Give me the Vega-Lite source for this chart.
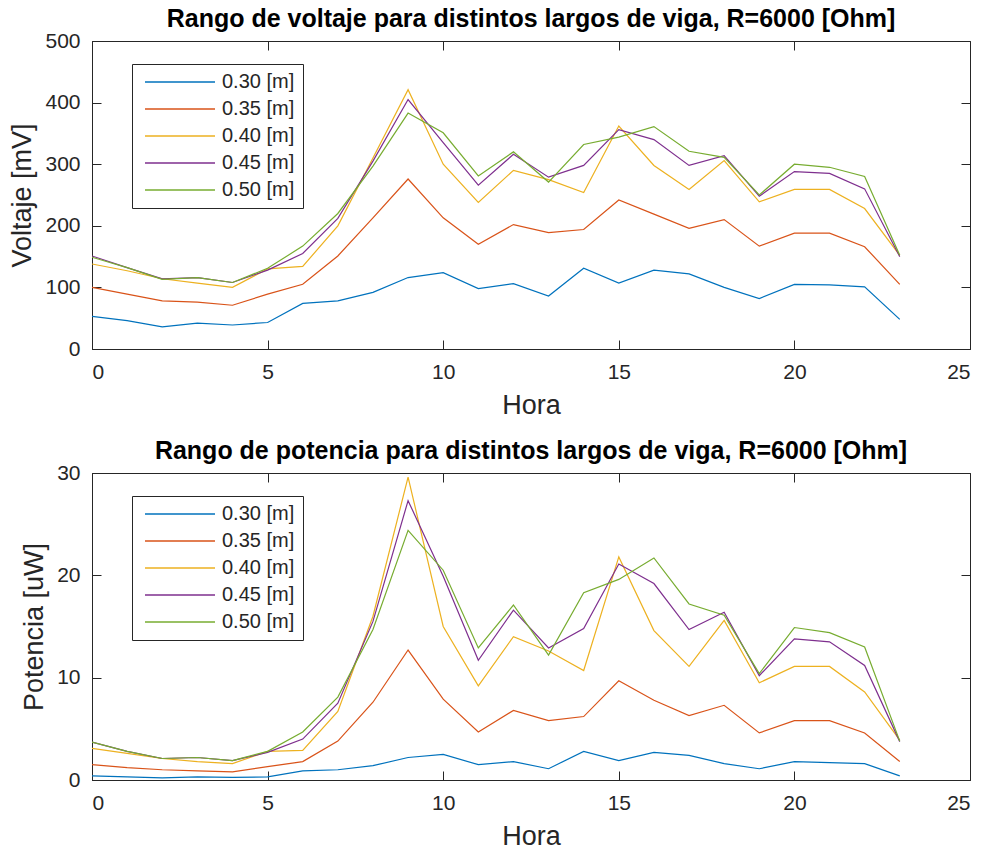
{
  "$schema": "https://vega.github.io/schema/vega-lite/v6.json",
  "background": "white",
  "autosize": {"type": "pad"},
  "padding": {"left": 8, "top": 6, "right": 0, "bottom": 0},
  "spacing": 19,
  "config": {
    "font": "Liberation Sans",
    "view": {"stroke": "#262626", "strokeWidth": 1},
    "axis": {
      "grid": false,
      "domainColor": "#262626",
      "tickColor": "#262626",
      "labelColor": "#262626",
      "titleColor": "#262626",
      "labelFont": "Liberation Sans",
      "titleFont": "Liberation Sans",
      "labelFontSize": 21,
      "titleFontSize": 27,
      "titleFontWeight": "normal",
      "tickSize": -9,
      "labelPadding": 21
    },
    "axisX": {"titlePadding": 10},
    "axisY": {"titlePadding": 8},
    "title": {"font": "Liberation Sans", "fontSize": 25, "fontWeight": "bold", "color": "#000000", "anchor": "middle", "frame": "group", "baseline": "alphabetic", "offset": -2},
    "legend": {
      "orient": "none",
      "legendX": 40,
      "legendY": 23,
      "title": null,
      "symbolType": "M-1,0H13",
      "symbolSize": 100,
      "symbolStrokeWidth": 1.3,
      "labelFont": "Liberation Sans",
      "labelFontSize": 20,
      "labelColor": "#262626",
      "labelOffset": 62,
      "strokeColor": "#262626",
      "fillColor": "white",
      "padding": 8,
      "rowPadding": 7
    }
  },
  "data": {"values": [
    {"hora":0,"largo":"0.30 [m]","voltaje":53,"potencia":0.4},
    {"hora":0,"largo":"0.35 [m]","voltaje":100,"potencia":1.5},
    {"hora":0,"largo":"0.40 [m]","voltaje":138,"potencia":3.1},
    {"hora":0,"largo":"0.45 [m]","voltaje":151,"potencia":3.7},
    {"hora":0,"largo":"0.50 [m]","voltaje":149,"potencia":3.7},
    {"hora":1,"largo":"0.30 [m]","voltaje":46,"potencia":0.3},
    {"hora":1,"largo":"0.35 [m]","voltaje":89,"potencia":1.2},
    {"hora":1,"largo":"0.40 [m]","voltaje":127,"potencia":2.6},
    {"hora":1,"largo":"0.45 [m]","voltaje":132,"potencia":2.8},
    {"hora":1,"largo":"0.50 [m]","voltaje":132,"potencia":2.8},
    {"hora":2,"largo":"0.30 [m]","voltaje":36,"potencia":0.2},
    {"hora":2,"largo":"0.35 [m]","voltaje":78,"potencia":1.0},
    {"hora":2,"largo":"0.40 [m]","voltaje":114,"potencia":2.1},
    {"hora":2,"largo":"0.45 [m]","voltaje":114,"potencia":2.1},
    {"hora":2,"largo":"0.50 [m]","voltaje":113,"potencia":2.1},
    {"hora":3,"largo":"0.30 [m]","voltaje":42,"potencia":0.3},
    {"hora":3,"largo":"0.35 [m]","voltaje":76,"potencia":0.9},
    {"hora":3,"largo":"0.40 [m]","voltaje":107,"potencia":1.8},
    {"hora":3,"largo":"0.45 [m]","voltaje":116,"potencia":2.2},
    {"hora":3,"largo":"0.50 [m]","voltaje":116,"potencia":2.2},
    {"hora":4,"largo":"0.30 [m]","voltaje":39,"potencia":0.25},
    {"hora":4,"largo":"0.35 [m]","voltaje":71,"potencia":0.8},
    {"hora":4,"largo":"0.40 [m]","voltaje":100,"potencia":1.6},
    {"hora":4,"largo":"0.45 [m]","voltaje":108,"potencia":1.9},
    {"hora":4,"largo":"0.50 [m]","voltaje":108,"potencia":1.9},
    {"hora":5,"largo":"0.30 [m]","voltaje":43,"potencia":0.3},
    {"hora":5,"largo":"0.35 [m]","voltaje":89,"potencia":1.3},
    {"hora":5,"largo":"0.40 [m]","voltaje":130,"potencia":2.8},
    {"hora":5,"largo":"0.45 [m]","voltaje":128,"potencia":2.7},
    {"hora":5,"largo":"0.50 [m]","voltaje":131,"potencia":2.8},
    {"hora":6,"largo":"0.30 [m]","voltaje":74,"potencia":0.9},
    {"hora":6,"largo":"0.35 [m]","voltaje":105,"potencia":1.8},
    {"hora":6,"largo":"0.40 [m]","voltaje":134,"potencia":2.9},
    {"hora":6,"largo":"0.45 [m]","voltaje":155,"potencia":4.0},
    {"hora":6,"largo":"0.50 [m]","voltaje":167,"potencia":4.7},
    {"hora":7,"largo":"0.30 [m]","voltaje":78,"potencia":1.0},
    {"hora":7,"largo":"0.35 [m]","voltaje":151,"potencia":3.8},
    {"hora":7,"largo":"0.40 [m]","voltaje":200,"potencia":6.7},
    {"hora":7,"largo":"0.45 [m]","voltaje":212,"potencia":7.5},
    {"hora":7,"largo":"0.50 [m]","voltaje":220,"potencia":8.1},
    {"hora":8,"largo":"0.30 [m]","voltaje":92,"potencia":1.4},
    {"hora":8,"largo":"0.35 [m]","voltaje":213,"potencia":7.6},
    {"hora":8,"largo":"0.40 [m]","voltaje":310,"potencia":16.0},
    {"hora":8,"largo":"0.45 [m]","voltaje":305,"potencia":15.5},
    {"hora":8,"largo":"0.50 [m]","voltaje":297,"potencia":14.7},
    {"hora":9,"largo":"0.30 [m]","voltaje":116,"potencia":2.2},
    {"hora":9,"largo":"0.35 [m]","voltaje":276,"potencia":12.7},
    {"hora":9,"largo":"0.40 [m]","voltaje":421,"potencia":29.6},
    {"hora":9,"largo":"0.45 [m]","voltaje":405,"potencia":27.3},
    {"hora":9,"largo":"0.50 [m]","voltaje":383,"potencia":24.4},
    {"hora":10,"largo":"0.30 [m]","voltaje":124,"potencia":2.5},
    {"hora":10,"largo":"0.35 [m]","voltaje":213,"potencia":7.9},
    {"hora":10,"largo":"0.40 [m]","voltaje":300,"potencia":15.0},
    {"hora":10,"largo":"0.45 [m]","voltaje":335,"potencia":19.9},
    {"hora":10,"largo":"0.50 [m]","voltaje":351,"potencia":20.5},
    {"hora":11,"largo":"0.30 [m]","voltaje":98,"potencia":1.5},
    {"hora":11,"largo":"0.35 [m]","voltaje":170,"potencia":4.7},
    {"hora":11,"largo":"0.40 [m]","voltaje":238,"potencia":9.2},
    {"hora":11,"largo":"0.45 [m]","voltaje":266,"potencia":11.7},
    {"hora":11,"largo":"0.50 [m]","voltaje":281,"potencia":12.9},
    {"hora":12,"largo":"0.30 [m]","voltaje":106,"potencia":1.8},
    {"hora":12,"largo":"0.35 [m]","voltaje":202,"potencia":6.8},
    {"hora":12,"largo":"0.40 [m]","voltaje":290,"potencia":14.0},
    {"hora":12,"largo":"0.45 [m]","voltaje":316,"potencia":16.6},
    {"hora":12,"largo":"0.50 [m]","voltaje":320,"potencia":17.1},
    {"hora":13,"largo":"0.30 [m]","voltaje":86,"potencia":1.1},
    {"hora":13,"largo":"0.35 [m]","voltaje":189,"potencia":5.8},
    {"hora":13,"largo":"0.40 [m]","voltaje":275,"potencia":12.6},
    {"hora":13,"largo":"0.45 [m]","voltaje":279,"potencia":12.9},
    {"hora":13,"largo":"0.50 [m]","voltaje":271,"potencia":12.2},
    {"hora":14,"largo":"0.30 [m]","voltaje":131,"potencia":2.8},
    {"hora":14,"largo":"0.35 [m]","voltaje":194,"potencia":6.2},
    {"hora":14,"largo":"0.40 [m]","voltaje":254,"potencia":10.7},
    {"hora":14,"largo":"0.45 [m]","voltaje":298,"potencia":14.8},
    {"hora":14,"largo":"0.50 [m]","voltaje":332,"potencia":18.3},
    {"hora":15,"largo":"0.30 [m]","voltaje":107,"potencia":1.9},
    {"hora":15,"largo":"0.35 [m]","voltaje":242,"potencia":9.7},
    {"hora":15,"largo":"0.40 [m]","voltaje":362,"potencia":21.8},
    {"hora":15,"largo":"0.45 [m]","voltaje":356,"potencia":21.1},
    {"hora":15,"largo":"0.50 [m]","voltaje":344,"potencia":19.6},
    {"hora":16,"largo":"0.30 [m]","voltaje":128,"potencia":2.7},
    {"hora":16,"largo":"0.35 [m]","voltaje":219,"potencia":7.8},
    {"hora":16,"largo":"0.40 [m]","voltaje":298,"potencia":14.6},
    {"hora":16,"largo":"0.45 [m]","voltaje":340,"potencia":19.2},
    {"hora":16,"largo":"0.50 [m]","voltaje":361,"potencia":21.7},
    {"hora":17,"largo":"0.30 [m]","voltaje":122,"potencia":2.4},
    {"hora":17,"largo":"0.35 [m]","voltaje":196,"potencia":6.3},
    {"hora":17,"largo":"0.40 [m]","voltaje":259,"potencia":11.1},
    {"hora":17,"largo":"0.45 [m]","voltaje":298,"potencia":14.7},
    {"hora":17,"largo":"0.50 [m]","voltaje":321,"potencia":17.2},
    {"hora":18,"largo":"0.30 [m]","voltaje":100,"potencia":1.6},
    {"hora":18,"largo":"0.35 [m]","voltaje":210,"potencia":7.3},
    {"hora":18,"largo":"0.40 [m]","voltaje":306,"potencia":15.6},
    {"hora":18,"largo":"0.45 [m]","voltaje":314,"potencia":16.4},
    {"hora":18,"largo":"0.50 [m]","voltaje":311,"potencia":16.1},
    {"hora":19,"largo":"0.30 [m]","voltaje":82,"potencia":1.1},
    {"hora":19,"largo":"0.35 [m]","voltaje":167,"potencia":4.6},
    {"hora":19,"largo":"0.40 [m]","voltaje":239,"potencia":9.5},
    {"hora":19,"largo":"0.45 [m]","voltaje":248,"potencia":10.2},
    {"hora":19,"largo":"0.50 [m]","voltaje":250,"potencia":10.4},
    {"hora":20,"largo":"0.30 [m]","voltaje":105,"potencia":1.8},
    {"hora":20,"largo":"0.35 [m]","voltaje":188,"potencia":5.8},
    {"hora":20,"largo":"0.40 [m]","voltaje":259,"potencia":11.1},
    {"hora":20,"largo":"0.45 [m]","voltaje":288,"potencia":13.8},
    {"hora":20,"largo":"0.50 [m]","voltaje":300,"potencia":14.9},
    {"hora":21,"largo":"0.30 [m]","voltaje":104,"potencia":1.7},
    {"hora":21,"largo":"0.35 [m]","voltaje":188,"potencia":5.8},
    {"hora":21,"largo":"0.40 [m]","voltaje":259,"potencia":11.1},
    {"hora":21,"largo":"0.45 [m]","voltaje":285,"potencia":13.5},
    {"hora":21,"largo":"0.50 [m]","voltaje":295,"potencia":14.4},
    {"hora":22,"largo":"0.30 [m]","voltaje":101,"potencia":1.6},
    {"hora":22,"largo":"0.35 [m]","voltaje":166,"potencia":4.6},
    {"hora":22,"largo":"0.40 [m]","voltaje":228,"potencia":8.6},
    {"hora":22,"largo":"0.45 [m]","voltaje":260,"potencia":11.2},
    {"hora":22,"largo":"0.50 [m]","voltaje":280,"potencia":13.0},
    {"hora":23,"largo":"0.30 [m]","voltaje":48,"potencia":0.4},
    {"hora":23,"largo":"0.35 [m]","voltaje":105,"potencia":1.8},
    {"hora":23,"largo":"0.40 [m]","voltaje":152,"potencia":3.9},
    {"hora":23,"largo":"0.45 [m]","voltaje":150,"potencia":3.75},
    {"hora":23,"largo":"0.50 [m]","voltaje":152,"potencia":3.8}
  ]},
  "vconcat": [
    {
      "title": {"text": "Rango de voltaje para distintos largos de viga, R=6000 [Ohm]"},
      "width": 878,
      "height": 308,
      "layer": [
        {
          "mark": {"type": "line", "strokeWidth": 1.2, "clip": true},
          "encoding": {
            "x": {"field": "hora", "type": "quantitative", "title": "Hora", "scale": {"domain": [0, 25], "nice": false, "zero": false}, "axis": {"values": [0, 5, 10, 15, 20, 25], "orient": "bottom"}},
            "y": {"field": "voltaje", "type": "quantitative", "title": "Voltaje [mV]", "scale": {"domain": [0, 500], "nice": false}, "axis": {"values": [0, 100, 200, 300, 400, 500], "orient": "left"}},
            "color": {"field": "largo", "type": "nominal", "scale": {"domain": ["0.30 [m]", "0.35 [m]", "0.40 [m]", "0.45 [m]", "0.50 [m]"], "range": ["#0072BD", "#D95319", "#EDB120", "#7E2F8E", "#77AC30"]}},
            "order": {"field": "hora", "type": "quantitative"}
          }
        },
        {
          "mark": {"type": "point", "opacity": 0},
          "encoding": {
            "x": {"field": "hora", "type": "quantitative", "scale": {"domain": [0, 25], "nice": false, "zero": false}, "axis": {"values": [0, 5, 10, 15, 20, 25], "orient": "top", "labels": false, "title": null, "domain": false, "labelPadding": 0}},
            "y": {"field": "voltaje", "type": "quantitative", "scale": {"domain": [0, 500], "nice": false}, "axis": {"values": [0, 100, 200, 300, 400, 500], "orient": "right", "labels": false, "title": null, "domain": false, "labelPadding": 0}}
          }
        }
      ],
      "resolve": {"axis": {"x": "independent", "y": "independent"}}
    },
    {
      "title": {"text": "Rango de potencia para distintos largos de viga, R=6000 [Ohm]"},
      "width": 878,
      "height": 307,
      "layer": [
        {
          "mark": {"type": "line", "strokeWidth": 1.2, "clip": true},
          "encoding": {
            "x": {"field": "hora", "type": "quantitative", "title": "Hora", "scale": {"domain": [0, 25], "nice": false, "zero": false}, "axis": {"values": [0, 5, 10, 15, 20, 25], "orient": "bottom"}},
            "y": {"field": "potencia", "type": "quantitative", "title": "Potencia [uW]", "scale": {"domain": [0, 30], "nice": false}, "axis": {"values": [0, 10, 20, 30], "orient": "left"}},
            "color": {"field": "largo", "type": "nominal", "scale": {"domain": ["0.30 [m]", "0.35 [m]", "0.40 [m]", "0.45 [m]", "0.50 [m]"], "range": ["#0072BD", "#D95319", "#EDB120", "#7E2F8E", "#77AC30"]}},
            "order": {"field": "hora", "type": "quantitative"}
          }
        },
        {
          "mark": {"type": "point", "opacity": 0},
          "encoding": {
            "x": {"field": "hora", "type": "quantitative", "scale": {"domain": [0, 25], "nice": false, "zero": false}, "axis": {"values": [0, 5, 10, 15, 20, 25], "orient": "top", "labels": false, "title": null, "domain": false, "labelPadding": 0}},
            "y": {"field": "potencia", "type": "quantitative", "scale": {"domain": [0, 30], "nice": false}, "axis": {"values": [0, 10, 20, 30], "orient": "right", "labels": false, "title": null, "domain": false, "labelPadding": 0}}
          }
        }
      ],
      "resolve": {"axis": {"x": "independent", "y": "independent"}}
    }
  ],
  "resolve": {"legend": {"color": "independent"}}
}
